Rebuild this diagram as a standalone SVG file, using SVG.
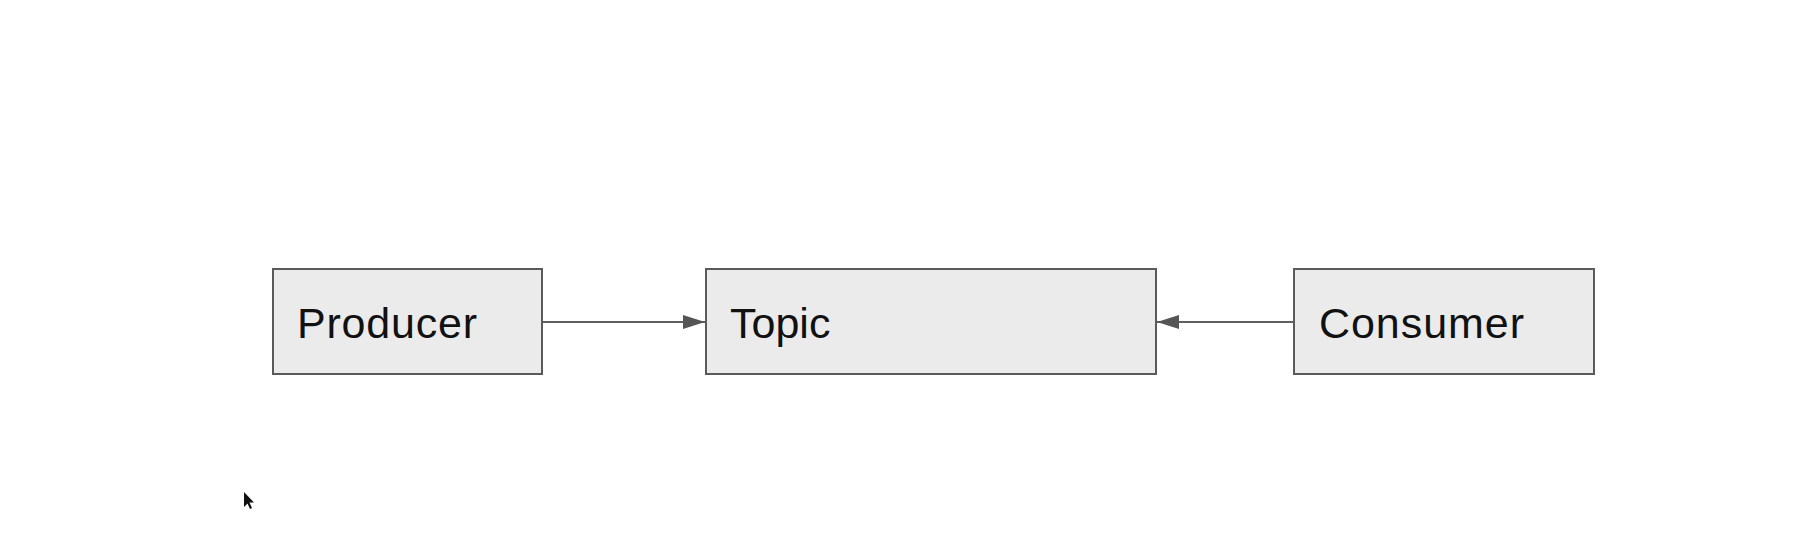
<svg xmlns="http://www.w3.org/2000/svg" width="1810" height="545" viewBox="0 0 1810 545">
<style>
.box{fill:#ebebeb;stroke:#5a5a5a;stroke-width:2}
.lbl{font-family:"Liberation Sans",Arial,sans-serif;font-size:43px;fill:#111}
.edge{stroke:#5f5f5f;stroke-width:2;fill:none}
</style>
<defs>
<marker id="ah" markerWidth="22" markerHeight="14" refX="22" refY="7" orient="auto" markerUnits="userSpaceOnUse">
<path d="M0,0 L22,7 L0,14 Z" fill="#555"/>
</marker>
</defs>
<rect width="1810" height="545" fill="#fff"/>
<g id="producer">
<rect class="box" x="273" y="269" width="269" height="105"/>
<text class="lbl" x="297" y="338" textLength="180">Producer</text>
</g>
<g id="topic">
<rect class="box" x="706" y="269" width="450" height="105"/>
<text class="lbl" x="730" y="338">Topic</text>
</g>
<g id="consumer">
<rect class="box" x="1294" y="269" width="300" height="105"/>
<text class="lbl" x="1319" y="338" textLength="205">Consumer</text>
</g>
<g id="connectors">
<line class="edge" x1="542" y1="322" x2="705" y2="322" marker-end="url(#ah)"/>
<line class="edge" x1="1294" y1="322" x2="1157" y2="322" marker-end="url(#ah)"/>
</g>
<path d="M244,492 L244,507 L247.5,503.5 L250,509 L252,508 L249.5,502.5 L254,502.5 Z" fill="#111"/>
</svg>
